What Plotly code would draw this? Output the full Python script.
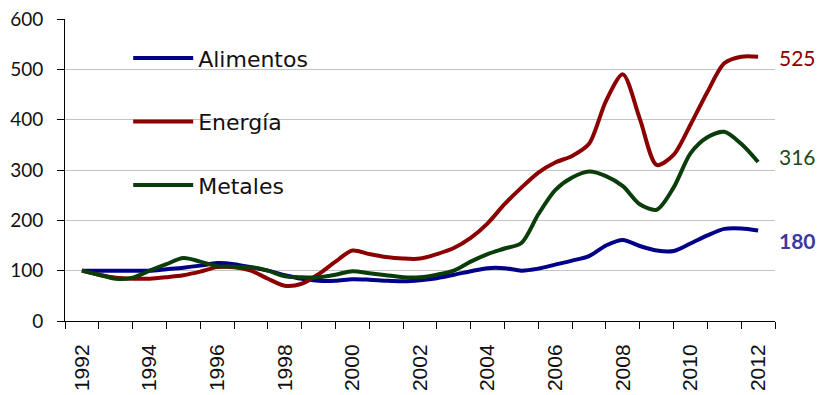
import plotly.graph_objects as go

years = [1992 + 0.5 * i for i in range(41)]

alimentos = [100, 100, 100, 100, 100, 103, 106, 110, 115, 113,
             107, 100, 91, 84, 80, 80, 83, 82, 80, 79,
             81, 85, 92, 99, 105, 105, 100, 104, 112, 120,
             129, 150, 161, 149, 140, 139, 154, 170, 183, 184,
             180]
energia = [100, 92, 86, 84, 84, 87, 91, 98, 107, 107,
           100, 84, 70, 74, 93, 118, 140, 133, 127, 124,
           124, 133, 145, 165, 194, 232, 265, 295, 315, 328,
           352, 437, 490, 402, 310, 330, 390, 455, 512, 525,
           525]
metales = [100, 92, 84, 86, 100, 113, 125, 118, 109, 108,
           107, 100, 89, 87, 87, 92, 99, 95, 91, 87,
           87, 92, 100, 118, 133, 144, 155, 212, 260, 285,
           297, 288, 268, 232, 221, 265, 333, 365, 376, 352,
           316]

names = ["Alimentos", "Energía", "Metales"]
series = [alimentos, energia, metales]
colors = ["#000088", "#8B0000", "#0B3D0B"]
label_colors = ["#3A3A9E", "#8B0000", "#1A4A1A"]
label_bold = [True, False, False]
label_shift = [-10, -1, 5]

tick_years = list(range(1992, 2013, 2))
tick_text = [str(y) for y in tick_years]
boundaries = [y - 0.5 for y in range(1992, 2014)]

fig = go.Figure()
for i, (n, s) in enumerate(zip(names, series)):
    fig.add_trace(go.Scatter(
        x=years, y=s, name=n, mode="lines",
        line=dict(color=colors[i], width=4, shape="spline", smoothing=0.8),
        legendgroup=n,
    ))
    fig.add_annotation(
        x=1.003, xref="paper", y=s[-1], yref="y",
        text=("<b>%d</b>" % s[-1]) if label_bold[i] else "%d" % s[-1],
        showarrow=False, xanchor="left", yanchor="middle", yshift=label_shift[i],
        font=dict(family="Lato", size=21, color=label_colors[i]),
    )

# white box behind the legend, hiding the gridlines as in the original
fig.add_shape(type="rect", xref="paper", yref="paper",
              x0=30 / 710, x1=284 / 710, y0=(321 - 200) / 302, y1=(321 - 30) / 302,
              fillcolor="white", line=dict(width=0), layer="below")

fig.update_layout(
    width=820, height=395,
    margin=dict(l=65, r=45, t=19, b=74),
    paper_bgcolor="white", plot_bgcolor="white",
    showlegend=True,
    legend=dict(
        x=0.089, y=0.94, xanchor="left", yanchor="top",
        bgcolor="rgba(0,0,0,0)", font=dict(family="DejaVu Sans", size=22, color="#111"),
        itemwidth=60, tracegroupgap=32,
    ),
    xaxis=dict(
        range=[1991.5, 2012.5], tickmode="array", tickvals=tick_years, ticktext=tick_text,
        tickangle=-90, ticks="outside", ticklen=8, tickcolor="rgba(0,0,0,0)",
        ticklabelstandoff=6, automargin=False,
        showline=True, linecolor="black", linewidth=1, showgrid=False, zeroline=False,
        tickfont=dict(family="Liberation Sans", size=21, color="#111"),
        minor=dict(tickmode="array", tickvals=boundaries, ticks="outside", ticklen=7,
                   tickcolor="black", showgrid=False),
    ),
    yaxis=dict(
        range=[0, 600], tickvals=[0, 100, 200, 300, 400, 500, 600],
        ticks="outside", ticklen=7, tickcolor="black", ticklabelstandoff=10,
        automargin=False,
        showline=True, linecolor="black", linewidth=1,
        showgrid=True, gridcolor="#C4C4C4", gridwidth=1, zeroline=False,
        tickfont=dict(family="Lato", size=19, color="#111"),
    ),
)

fig.write_html("out.html")
